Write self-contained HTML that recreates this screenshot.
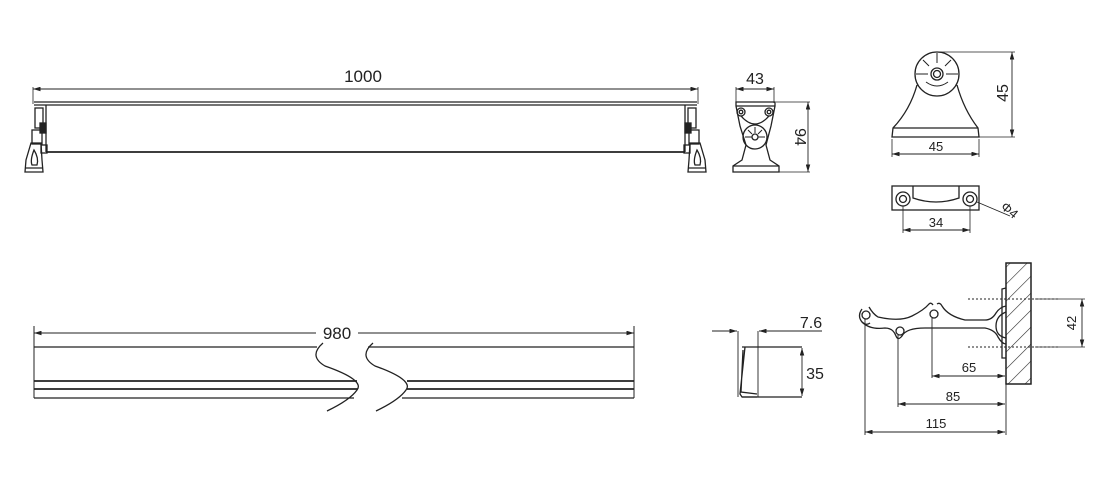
<!DOCTYPE html>
<html><head><meta charset="utf-8"><style>
html,body{margin:0;padding:0;background:#fff;width:1100px;height:478px;overflow:hidden}
svg{display:block}
text{font-family:"Liberation Sans",sans-serif;fill:#222}
</style></head><body>
<svg width="1100" height="478" viewBox="0 0 1100 478" xmlns="http://www.w3.org/2000/svg">
<defs>
<marker id="a" viewBox="0 0 10 6" refX="10" refY="3" markerWidth="9" markerHeight="5" orient="auto-start-reverse"><path d="M0,0L10,3L0,6z" fill="#222"/></marker>
<pattern id="h" patternUnits="userSpaceOnUse" width="12" height="12" patternTransform="rotate(45)"><line x1="0" y1="0" x2="0" y2="12" stroke="#333" stroke-width="1.2"/></pattern>
</defs>
<g fill="none" stroke="#222" stroke-width="1.3">
<!-- TOP BAR -->
<line x1="33" y1="89" x2="698" y2="89" stroke-width="0.9" marker-start="url(#a)" marker-end="url(#a)"/>
<line x1="33" y1="87" x2="33" y2="104" stroke-width="0.8"/>
<line x1="698" y1="87" x2="698" y2="104" stroke-width="0.8"/>
<line x1="34" y1="102" x2="697" y2="102"/>
<line x1="34" y1="105" x2="697" y2="105"/>
<line x1="46" y1="152" x2="685" y2="152" stroke-width="1.8"/>
<line x1="46" y1="105" x2="46" y2="152"/>
<line x1="685" y1="105" x2="685" y2="152"/>
<!-- left bracket -->
<rect x="35" y="108" width="8" height="20"/>
<rect x="40" y="123" width="6" height="10" fill="#222"/>
<rect x="32" y="130" width="10" height="14"/>
<path d="M31,143 L41,143 L42,160 L43,172 L25,172 L26,160 Z"/>
<path d="M34,150 Q30,160 32,165 L37,165 Q39,158 34,150Z"/>
<line x1="25" y1="168" x2="43" y2="168"/>
<rect x="41" y="145" width="6" height="8"/>
<!-- right bracket -->
<rect x="688" y="108" width="8" height="20"/>
<rect x="685" y="123" width="6" height="10" fill="#222"/>
<rect x="689" y="130" width="10" height="14"/>
<path d="M690,143 L700,143 L705,160 L706,172 L688,172 L689,160 Z"/>
<path d="M697,150 Q693,160 695,165 L700,165 Q702,158 697,150Z"/>
<line x1="688" y1="168" x2="706" y2="168"/>
<rect x="684" y="145" width="6" height="8"/>

<!-- SIDE VIEW 43/94 -->
<line x1="736" y1="89" x2="774" y2="89" stroke-width="0.9" marker-start="url(#a)" marker-end="url(#a)"/>
<line x1="736" y1="87" x2="736" y2="103" stroke-width="0.8"/>
<line x1="774" y1="87" x2="774" y2="103" stroke-width="0.8"/>
<line x1="776" y1="102" x2="810" y2="102" stroke-width="0.8"/>
<line x1="779" y1="172" x2="810" y2="172" stroke-width="0.8"/>
<line x1="808" y1="102" x2="808" y2="172" stroke-width="0.9" marker-start="url(#a)" marker-end="url(#a)"/>
<path d="M736,102 L775,102 L775,106 L771,126 L766,145 L770,160 L779,166 L779,172 L733,172 L733,166 L742,160 L746,145 L740,126 L736,106 Z"/>
<line x1="736" y1="106" x2="775" y2="106"/>
<circle cx="741" cy="112" r="4"/><circle cx="741" cy="112" r="1.8"/>
<circle cx="769" cy="112" r="4"/><circle cx="769" cy="112" r="1.8"/>
<path d="M741,116 Q755,132 769,116"/>
<circle cx="755" cy="137" r="12"/>
<circle cx="755" cy="137" r="3"/>
<path d="M745,137 L752,137 M758,137 L765,137 M755,127 L755,133 M748,130 L752,134 M762,130 L758,134" stroke-width="1"/>
<line x1="733" y1="166" x2="779" y2="166"/>

<!-- FRONT BRACKET 45x45 -->
<line x1="937" y1="52" x2="1015" y2="52" stroke-width="0.8"/>
<line x1="979" y1="137" x2="1015" y2="137" stroke-width="0.8"/>
<line x1="1012" y1="52" x2="1012" y2="137" stroke-width="0.9" marker-start="url(#a)" marker-end="url(#a)"/>
<line x1="892" y1="139" x2="892" y2="157" stroke-width="0.8"/>
<line x1="979" y1="139" x2="979" y2="157" stroke-width="0.8"/>
<line x1="892" y1="154" x2="979" y2="154" stroke-width="0.9" marker-start="url(#a)" marker-end="url(#a)"/>
<path d="M917,85 Q910,110 893,128 L892,137 L979,137 L978,128 Q964,110 957,85"/>
<line x1="893" y1="128" x2="978" y2="128"/>
<circle cx="937" cy="74" r="22" fill="#fff"/>
<circle cx="937" cy="74" r="6"/><circle cx="937" cy="74" r="3.5"/>
<path d="M916,74 L928,74 M946,74 L958,74 M937,53 L937,63 M923,60 L929,66 M951,60 L945,66 M926,82 Q937,90 948,82" stroke-width="1"/>

<!-- BOTTOM VIEW -->
<rect x="892" y="186" width="87" height="24"/>
<path d="M913,186 L913,198 Q936,206 959,198 L959,186"/>
<circle cx="903" cy="199" r="7"/><circle cx="903" cy="199" r="3.5"/>
<circle cx="970" cy="199" r="7"/><circle cx="970" cy="199" r="3.5"/>
<line x1="903" y1="206" x2="903" y2="233" stroke-width="0.8"/>
<line x1="970" y1="206" x2="970" y2="233" stroke-width="0.8"/>
<line x1="903" y1="230" x2="970" y2="230" stroke-width="0.9" marker-start="url(#a)" marker-end="url(#a)"/>
<line x1="977" y1="202" x2="1010" y2="216" stroke-width="0.9"/>

<!-- BOTTOM BAR 980 -->
<line x1="34" y1="333" x2="316" y2="333" stroke-width="0.9" marker-start="url(#a)"/>
<line x1="358" y1="333" x2="634" y2="333" stroke-width="0.9" marker-end="url(#a)"/>
<line x1="34" y1="326" x2="34" y2="398" stroke-width="1"/>
<line x1="634" y1="326" x2="634" y2="398" stroke-width="1"/>
<line x1="34" y1="347" x2="317" y2="347"/>
<line x1="368" y1="347" x2="634" y2="347"/>
<line x1="34" y1="381" x2="357" y2="381" stroke-width="1.8"/>
<line x1="407" y1="381" x2="634" y2="381" stroke-width="1.8"/>
<line x1="34" y1="389" x2="358" y2="389" stroke-width="1.8"/>
<line x1="407" y1="389" x2="634" y2="389" stroke-width="1.8"/>
<line x1="34" y1="398" x2="354" y2="398"/>
<line x1="402" y1="398" x2="634" y2="398"/>
<path d="M323,343 Q308,356 325,366 Q365,380 357,390 Q350,400 327,411"/>
<path d="M373,343 Q358,356 375,366 Q414,380 406,390 Q399,400 376,411"/>

<!-- PROFILE 7.6/35 -->
<line x1="712" y1="331" x2="737" y2="331" stroke-width="0.9" marker-end="url(#a)"/>
<line x1="822" y1="331" x2="759" y2="331" stroke-width="0.9" marker-end="url(#a)"/>
<line x1="738" y1="331" x2="738" y2="397" stroke-width="0.9"/>
<line x1="758" y1="331" x2="758" y2="397" stroke-width="0.9"/>
<path d="M742,347 L802,347 M742,397 L802,397"/>
<path d="M745,347 L740,394 L742,397 L757,397 M743,350 L741,392 L757,394"/>
<line x1="802" y1="348" x2="802" y2="396" stroke-width="0.9" marker-start="url(#a)" marker-end="url(#a)"/>

<!-- ARM -->
<rect x="1006" y="263" width="25" height="121" fill="url(#h)"/>
<rect x="1006" y="263" width="25" height="121"/>
<path d="M1006,288 L1002,289 L1002,358 L1006,358"/>
<line x1="968" y1="299" x2="1060" y2="299" stroke-dasharray="2,2" stroke-width="1"/>
<line x1="968" y1="347" x2="1060" y2="347" stroke-dasharray="2,2" stroke-width="1"/>
<line x1="1035" y1="299" x2="1085" y2="299" stroke-width="0.8"/>
<line x1="1035" y1="347" x2="1085" y2="347" stroke-width="0.8"/>
<line x1="1082" y1="299" x2="1082" y2="347" stroke-width="0.9" marker-start="url(#a)" marker-end="url(#a)"/>
<path d="M862,309 Q857,316 862,322 Q866,326 870,323 M869,307 Q873,314 878,317 Q900,322 912,316 Q924,310 929,304 Q931,302 933,305 M937,304 Q940,302 942,306 Q948,316 965,320 L985,320 Q992,320 996,313 Q1000,307 1006,306"/>
<path d="M862,322 Q870,330 885,328 Q893,328 896,336 Q898,341 902,336 Q906,328 925,328 L985,328 Q995,330 998,337 Q1002,344 1006,344"/>
<path d="M1006,312 Q996,316 996,326 Q996,336 1006,338"/>
<circle cx="866" cy="315" r="4"/>
<circle cx="900" cy="331" r="4"/>
<circle cx="934" cy="314" r="4"/>
<line x1="865" y1="319" x2="865" y2="435" stroke-width="0.9"/>
<line x1="898" y1="335" x2="898" y2="407" stroke-width="0.9"/>
<line x1="932" y1="318" x2="932" y2="378" stroke-width="0.9"/>
<line x1="1006" y1="384" x2="1006" y2="435" stroke-width="0.9"/>
<line x1="932" y1="376" x2="1005" y2="376" stroke-width="0.9" marker-start="url(#a)" marker-end="url(#a)"/>
<line x1="898" y1="404" x2="1005" y2="404" stroke-width="0.9" marker-start="url(#a)" marker-end="url(#a)"/>
<line x1="865" y1="432" x2="1005" y2="432" stroke-width="0.9" marker-start="url(#a)" marker-end="url(#a)"/>
</g>
<g font-size="16">
<text x="363" y="82" text-anchor="middle" font-size="17">1000</text>
<text x="755" y="84" text-anchor="middle">43</text>
<text x="800" y="137" text-anchor="middle" transform="rotate(90 800 137)" dy="5">94</text>
<text x="1003" y="93" text-anchor="middle" transform="rotate(-90 1003 93)" dy="5">45</text>
<text x="936" y="151" text-anchor="middle" font-size="13">45</text>
<text x="936" y="227" text-anchor="middle" font-size="13">34</text>
<text x="1000" y="208" font-size="13" transform="rotate(40 1000 208)">Φ4</text>
<text x="337" y="339" text-anchor="middle" font-size="17">980</text>
<text x="811" y="328" text-anchor="middle">7.6</text>
<text x="815" y="379" text-anchor="middle">35</text>
<text x="1071" y="323" text-anchor="middle" font-size="13" transform="rotate(-90 1071 323)" dy="5">42</text>
<text x="969" y="372" text-anchor="middle" font-size="13">65</text>
<text x="953" y="401" text-anchor="middle" font-size="13">85</text>
<text x="936" y="428" text-anchor="middle" font-size="13">115</text>
</g>
</svg>
</body></html>
